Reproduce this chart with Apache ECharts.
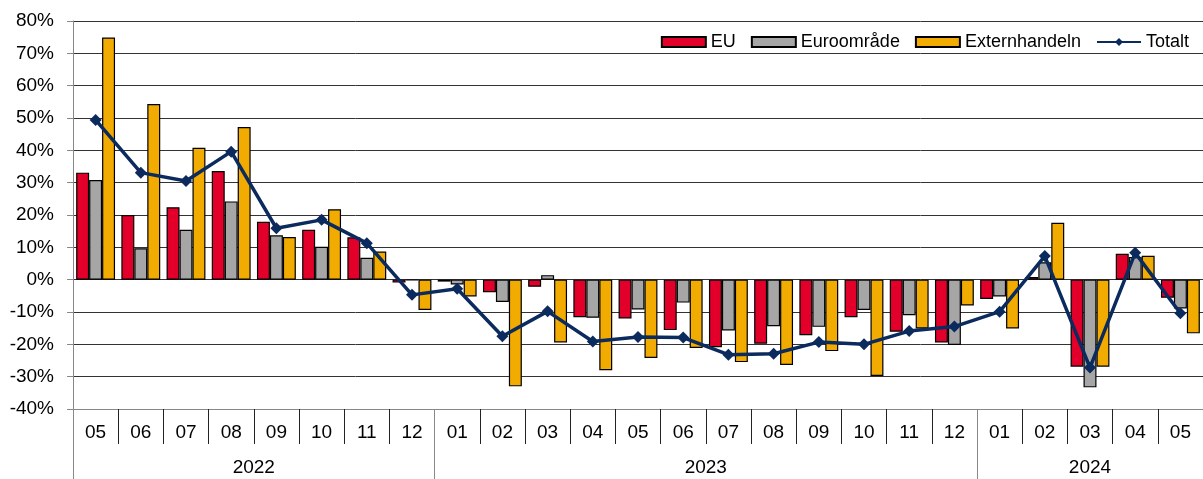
<!DOCTYPE html>
<html>
<head>
<meta charset="utf-8">
<script src="https://cdn.jsdelivr.net/npm/echarts@6/dist/echarts.min.js"></script>
<style>
  html, body { margin: 0; padding: 0; background: #fff; }
  #chart { width: 1203px; height: 479px; }
</style>
</head>
<body>
<div id="chart"></div>
<script>
var months = ['05', '06', '07', '08', '09', '10', '11', '12',
  '01', '02', '03', '04', '05', '06', '07', '08', '09', '10', '11', '12',
  '01', '02', '03', '04', '05'];
var years = ['2022', '2023', '2024'];
var yearLength = [8, 12, 5];

var eu = [33.1, 20.0, 22.4, 33.6, 17.9, 15.4, 13.1, -0.9,
  -0.6, -3.9, -2.2, -11.6, -12.0, -15.6, -20.9, -19.8, -17.2, -11.6, -16.1, -19.4,
  -6.0, 0.8, -26.9, 8.0, -5.6];
var euro = [30.8, 9.7, 15.4, 24.2, 13.7, 10.2, 6.8, -0.2,
  -1.5, -6.9, 1.4, -11.8, -9.2, -7.1, -15.7, -14.4, -14.6, -9.4, -11.0, -20.2,
  -5.2, 5.4, -33.3, 7.0, -8.9];
var ext = [74.9, 54.3, 40.8, 47.2, 13.2, 21.8, 8.7, -9.4,
  -5.2, -33.0, -19.4, -28.0, -24.2, -21.1, -25.5, -26.4, -22.1, -29.8, -15.1, -8.0,
  -15.1, 17.6, -26.9, 7.4, -16.6];
var total = [49.4, 33.1, 30.5, 39.6, 15.9, 18.5, 11.3, -4.7,
  -2.8, -17.5, -9.8, -19.1, -17.7, -17.9, -23.2, -22.9, -19.3, -20.0, -15.9, -14.5,
  -9.9, 7.3, -27.2, 8.3, -10.4];

// year boundaries and centres on a 0..n value axis
var yearTicks = [0];
var yearCenters = [];
var acc = 0;
for (var i = 0; i < yearLength.length; i++) {
  yearCenters.push(acc + yearLength[i] / 2);
  acc += yearLength[i];
  yearTicks.push(acc);
}

var chart = echarts.init(document.getElementById('chart'));
var font = 'Liberation Sans, Arial, sans-serif';

function barSeries(name, color, data) {
  return {
    name: name,
    type: 'bar',
    barGap: 0,
    barCategoryGap: '14%',
    itemStyle: { color: color, borderColor: '#000', borderWidth: 1.2 },
    data: data
  };
}

var option = {
  animation: false,
  textStyle: { fontFamily: font },
  legend: {
    right: 9,
    top: 28,
    itemWidth: 44,
    itemHeight: 10,
    itemGap: 15,
    textStyle: { fontSize: 18, color: '#000', fontFamily: font },
    data: [
      { name: 'EU', icon: 'rect' },
      { name: 'Euroområde', icon: 'rect' },
      { name: 'Externhandeln', icon: 'rect' },
      'Totalt'
    ]
  },
  grid: {
    left: 73,
    right: -7.5,
    top: 21,
    bottom: 70
  },
  xAxis: [{
    type: 'category',
    data: months,
    axisLine: { onZero: false, lineStyle: { color: '#888', width: 1 } },
    axisTick: { show: true, interval: 0, length: 35, lineStyle: { color: '#222' } },
    axisLabel: { interval: 0, margin: 14, fontSize: 19, color: '#000' }
  }, {
    type: 'value',
    min: 0,
    max: months.length,
    position: 'bottom',
    axisLine: { show: false, onZero: false },
    splitLine: { show: false },
    axisTick: {
      show: true,
      customValues: yearTicks,
      length: 72,
      lineStyle: { color: '#888' }
    },
    axisLabel: {
      customValues: yearCenters,
      margin: 49,
      fontSize: 19,
      color: '#000',
      formatter: function (v) {
        return years[yearCenters.indexOf(v)];
      }
    }
  }],
  yAxis: {
    type: 'value',
    min: -40,
    max: 80,
    interval: 10,
    axisLine: { show: true, lineStyle: { color: '#888' } },
    axisTick: { show: true, length: 6, lineStyle: { color: '#888' } },
    axisLabel: {
      formatter: '{value}%',
      fontSize: 19,
      color: '#000',
      margin: 19
    },
    splitLine: { lineStyle: { color: '#333', width: 1 } }
  },
  series: [
    barSeries('EU', '#e2002b', eu),
    barSeries('Euroområde', '#a6a6a6', euro),
    barSeries('Externhandeln', '#f2ab00', ext),
    {
      name: 'Totalt',
      type: 'line',
      data: total,
      symbol: 'diamond',
      symbolSize: 12,
      lineStyle: { color: '#0b2a5e', width: 3.5 },
      itemStyle: { color: '#0b2a5e' },
      z: 5
    }
  ]
};

chart.setOption(option);
</script>
</body>
</html>
